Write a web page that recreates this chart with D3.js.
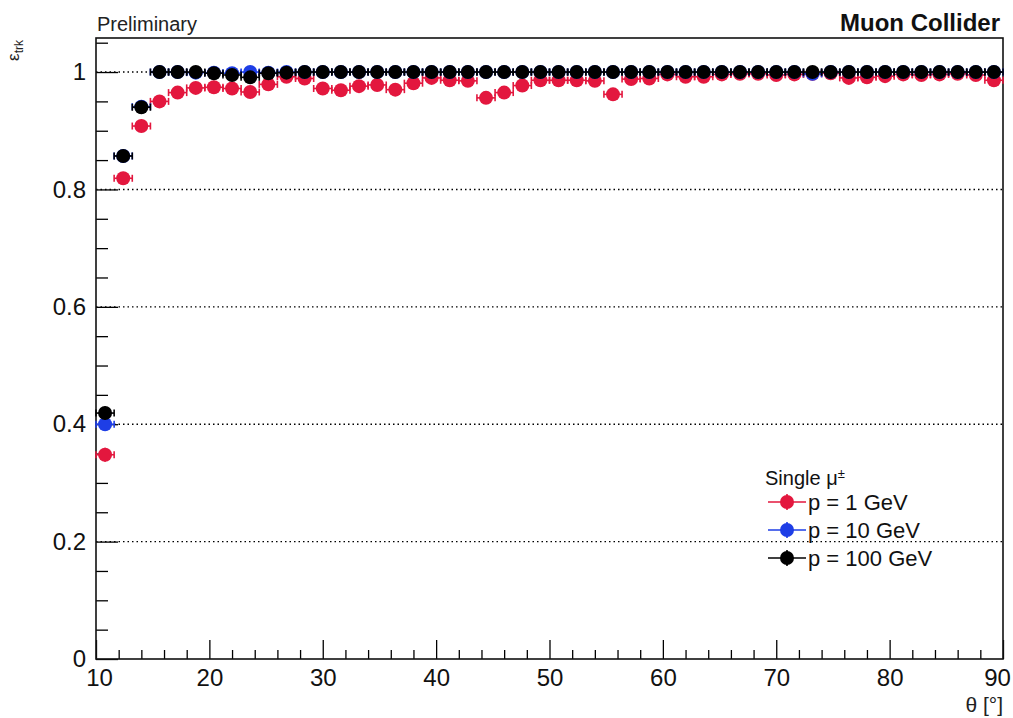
<!DOCTYPE html>
<html>
<head>
<meta charset="utf-8">
<script src="https://cdn.jsdelivr.net/npm/d3@7"></script>
<style>
  body { margin: 0; background: #fff; }
  text { font-family: "Liberation Sans", Arial, sans-serif; }
</style>
</head>
<body>
<script>
// bin centres in theta [deg], bin width 1.6
var thetaBins = [10.8, 12.4, 14.0, 15.6, 17.2, 18.8, 20.4, 22.0, 23.6, 25.2,
                 26.8, 28.4, 30.0, 31.6, 33.2, 34.8, 36.4, 38.0, 39.6, 41.2,
                 42.8, 44.4, 46.0, 47.6, 49.2, 50.8, 52.4, 54.0, 55.6, 57.2,
                 58.8, 60.4, 62.0, 63.6, 65.2, 66.8, 68.4, 70.0, 71.6, 73.2,
                 74.8, 76.4, 78.0, 79.6, 81.2, 82.8, 84.4, 86.0, 87.6, 89.2];
var binHalfWidth = 0.8;

var eff1GeV = [0.348, 0.819, 0.908, 0.950, 0.965, 0.973, 0.974, 0.972, 0.966, 0.979,
               0.992, 0.989, 0.972, 0.969, 0.976, 0.978, 0.970, 0.981, 0.990, 0.986,
               0.985, 0.956, 0.965, 0.977, 0.986, 0.986, 0.986, 0.985, 0.962, 0.988,
               0.989, 0.996, 0.992, 0.992, 0.996, 0.997, 0.997, 0.995, 0.996, 0.997,
               0.998, 0.990, 0.991, 0.993, 0.996, 0.995, 0.996, 0.997, 0.995, 0.986];
var err1GeV = [0.012, 0.008, 0.006, 0.005, 0.004, 0.004, 0.004, 0.004, 0.004, 0.003,
               0.002, 0.003, 0.004, 0.004, 0.003, 0.003, 0.004, 0.003, 0.002, 0.003,
               0.003, 0.005, 0.004, 0.003, 0.003, 0.003, 0.003, 0.003, 0.004, 0.003,
               0.002, 0.001, 0.002, 0.002, 0.001, 0.001, 0.001, 0.001, 0.001, 0.001,
               0.001, 0.002, 0.002, 0.002, 0.001, 0.001, 0.001, 0.001, 0.001, 0.003];

var eff10GeV = [0.400, 0.857, 0.941, 1.000, 1.000, 0.999, 0.999, 0.998, 1.000, 0.999,
                1.000, 1.000, 1.000, 1.000, 1.000, 1.000, 1.000, 1.000, 1.000, 1.000,
                1.000, 1.000, 1.000, 1.000, 1.000, 1.000, 1.000, 1.000, 1.000, 1.000,
                1.000, 1.000, 1.000, 1.000, 1.000, 1.000, 1.000, 1.000, 1.000, 0.997,
                1.000, 1.000, 1.000, 1.000, 1.000, 1.000, 1.000, 1.000, 1.000, 1.000];
var err10GeV = [0.011, 0.007, 0.005, 0.000, 0.000, 0.001, 0.001, 0.001, 0.000, 0.001,
                0.000, 0.000, 0.000, 0.000, 0.000, 0.000, 0.000, 0.000, 0.000, 0.000,
                0.000, 0.000, 0.000, 0.000, 0.000, 0.000, 0.000, 0.000, 0.000, 0.000,
                0.000, 0.000, 0.000, 0.000, 0.000, 0.000, 0.000, 0.000, 0.000, 0.001,
                0.000, 0.000, 0.000, 0.000, 0.000, 0.000, 0.000, 0.000, 0.000, 0.000];

var eff100GeV = [0.419, 0.857, 0.940, 1.000, 1.000, 1.000, 0.998, 0.995, 0.991, 0.998,
                 0.999, 1.000, 1.000, 1.000, 1.000, 1.000, 1.000, 1.000, 1.000, 1.000,
                 1.000, 1.000, 1.000, 1.000, 1.000, 1.000, 1.000, 1.000, 1.000, 1.000,
                 1.000, 1.000, 1.000, 1.000, 1.000, 1.000, 1.000, 1.000, 1.000, 1.000,
                 1.000, 1.000, 1.000, 1.000, 1.000, 1.000, 1.000, 1.000, 1.000, 1.000];
var err100GeV = [0.011, 0.007, 0.005, 0.000, 0.000, 0.000, 0.001, 0.001, 0.002, 0.001,
                 0.001, 0.000, 0.000, 0.000, 0.000, 0.000, 0.000, 0.000, 0.000, 0.000,
                 0.000, 0.000, 0.000, 0.000, 0.000, 0.000, 0.000, 0.000, 0.000, 0.000,
                 0.000, 0.000, 0.000, 0.000, 0.000, 0.000, 0.000, 0.000, 0.000, 0.000,
                 0.000, 0.000, 0.000, 0.000, 0.000, 0.000, 0.000, 0.000, 0.000, 0.000];

var seriesNames  = ["p = 1 GeV", "p = 10 GeV", "p = 100 GeV"];
var seriesColors = ["#e3173e", "#1e3ee6", "#000000"];

var xMajorTicks = [10, 20, 30, 40, 50, 60, 70, 80, 90];
var yMajorTicks = [0, 0.2, 0.4, 0.6, 0.8, 1];
var yTickLabels = ["0", "0.2", "0.4", "0.6", "0.8", "1"];

var series = [
  { name: seriesNames[0], color: seriesColors[0], y: eff1GeV,   err: err1GeV },
  { name: seriesNames[1], color: seriesColors[1], y: eff10GeV,  err: err10GeV },
  { name: seriesNames[2], color: seriesColors[2], y: eff100GeV, err: err100GeV }
];

var W = 1013, H = 718;
var margin = {top: 38, right: 10, bottom: 59, left: 96};
var width  = W - margin.left - margin.right,
    height = H - margin.top - margin.bottom;

var svg = d3.select("body")
            .append("svg")
            .attr("width", W)
            .attr("height", H);

var x = d3.scaleLinear().domain([10, 90]).range([0, width]),
    y = d3.scaleLinear().domain([0, 1.058]).range([height, 0]);

var g = svg.append("g")
           .attr("transform", "translate(" + margin.left + "," + margin.top + ")");

// dotted horizontal grid
g.selectAll(".grid")
 .data(yMajorTicks.filter(function(d) { return d > 0; }))
 .enter().append("line")
         .attr("class", "grid")
         .attr("x1", 0)
         .attr("x2", width)
         .attr("y1", function(d) { return y(d); })
         .attr("y2", function(d) { return y(d); })
         .attr("stroke", "#000")
         .attr("stroke-width", 1.4)
         .attr("stroke-dasharray", "1.5,3");

// axes with inward ticks
var xMinor = d3.range(10, 90.01, 2).filter(function(d) { return d % 10 !== 0; });
var yMinor = d3.range(0, 1.051, 0.05).filter(function(d) { return Math.abs(d / 0.2 - Math.round(d / 0.2)) > 1e-6; });

g.append("g")
 .attr("class", "axis axis--x")
 .attr("transform", "translate(0," + height + ")")
 .call(d3.axisBottom(x).tickValues(xMajorTicks).tickSize(-19).tickPadding(10).tickFormat(d3.format("d")))
 .call(function(a) { a.select(".domain").remove(); });

g.append("g")
 .attr("transform", "translate(0," + height + ")")
 .call(d3.axisBottom(x).tickValues(xMinor).tickSize(-9).tickFormat(""))
 .call(function(a) { a.select(".domain").remove(); });

g.append("g")
 .attr("class", "axis axis--y")
 .call(d3.axisLeft(y).tickValues(yMajorTicks).tickSize(-22).tickPadding(10)
         .tickFormat(function(d, i) { return yTickLabels[i]; }))
 .call(function(a) { a.select(".domain").remove(); });

g.append("g")
 .call(d3.axisLeft(y).tickValues(yMinor).tickSize(-12).tickFormat(""))
 .call(function(a) { a.select(".domain").remove(); });

g.selectAll(".tick line").attr("stroke", "#000").attr("stroke-width", 1.3);
g.selectAll(".tick text")
 .attr("fill", "#111")
 .style("font-size", "24px")
 .style("font-family", "'Liberation Sans', Arial, sans-serif");

// last x label sits a bit inside, as in the original
g.selectAll(".axis--x .tick text")
 .attr("dx", function(d) { return d === 90 ? -6 : (d === 10 ? 3 : 0); });

// frame
g.append("rect")
 .attr("width", width)
 .attr("height", height)
 .attr("fill", "none")
 .attr("stroke", "#111")
 .attr("stroke-width", 1.6);

// data: error bars + markers
var capH = 3.5, r = 7;
series.forEach(function(s) {
  var pts = thetaBins.map(function(t, i) { return {t: t, v: s.y[i], e: s.err[i]}; });
  var sg = g.append("g").attr("class", "series");
  var pg = sg.selectAll(".pt").data(pts).enter().append("g").attr("class", "pt");

  pg.append("line")
    .attr("x1", function(d) { return x(d.t - binHalfWidth); })
    .attr("x2", function(d) { return x(d.t + binHalfWidth); })
    .attr("y1", function(d) { return y(d.v); })
    .attr("y2", function(d) { return y(d.v); });
  pg.append("line")
    .attr("x1", function(d) { return x(d.t - binHalfWidth); })
    .attr("x2", function(d) { return x(d.t - binHalfWidth); })
    .attr("y1", function(d) { return y(d.v) - capH; })
    .attr("y2", function(d) { return y(d.v) + capH; });
  pg.append("line")
    .attr("x1", function(d) { return x(d.t + binHalfWidth); })
    .attr("x2", function(d) { return x(d.t + binHalfWidth); })
    .attr("y1", function(d) { return y(d.v) - capH; })
    .attr("y2", function(d) { return y(d.v) + capH; });
  pg.append("line")
    .attr("x1", function(d) { return x(d.t); })
    .attr("x2", function(d) { return x(d.t); })
    .attr("y1", function(d) { return y(d.v - d.e); })
    .attr("y2", function(d) { return y(d.v + d.e); });
  pg.selectAll("line").attr("stroke", s.color).attr("stroke-width", 1.6);

  pg.append("circle")
    .attr("cx", function(d) { return x(d.t); })
    .attr("cy", function(d) { return y(d.v); })
    .attr("r", r)
    .attr("fill", s.color);
});

// header texts
svg.append("text")
   .attr("x", 97)
   .attr("y", 31)
   .style("font-size", "20px")
   .attr("fill", "#222")
   .text("Preliminary");

svg.append("text")
   .attr("x", 1000)
   .attr("y", 31)
   .attr("text-anchor", "end")
   .style("font-size", "24px")
   .style("font-weight", "bold")
   .attr("fill", "#111")
   .text("Muon Collider");

// axis titles
var yt = svg.append("text")
   .attr("transform", "translate(19,40) rotate(-90)")
   .attr("text-anchor", "end")
   .style("font-size", "17px")
   .attr("fill", "#222");
yt.append("tspan").text("ε");
yt.append("tspan").attr("dy", 4).style("font-size", "12px").text("trk");

svg.append("text")
   .attr("x", 1003)
   .attr("y", 712)
   .attr("text-anchor", "end")
   .style("font-size", "21px")
   .attr("fill", "#222")
   .text("θ [°]");

// legend
var lg = svg.append("g").attr("transform", "translate(765,0)");
var lt = lg.append("text")
   .attr("x", 0)
   .attr("y", 485)
   .style("font-size", "20px")
   .attr("fill", "#111");
lt.append("tspan").text("Single μ");
lt.append("tspan").attr("dy", -7).style("font-size", "13px").text("±");

var rows = lg.selectAll(".row")
   .data(series)
   .enter().append("g")
           .attr("class", "row")
           .attr("transform", function(d, i) { return "translate(0," + (502 + i * 28) + ")"; });
rows.append("line")
    .attr("x1", 3).attr("x2", 41).attr("y1", 0).attr("y2", 0)
    .attr("stroke", function(d) { return d.color; }).attr("stroke-width", 1.6);
rows.append("line")
    .attr("x1", 22).attr("x2", 22).attr("y1", -8).attr("y2", 8)
    .attr("stroke", function(d) { return d.color; }).attr("stroke-width", 1.6);
rows.append("circle")
    .attr("cx", 22).attr("cy", 0).attr("r", r)
    .attr("fill", function(d) { return d.color; });
rows.append("text")
    .attr("x", 43)
    .attr("y", 0)
    .attr("dy", "0.36em")
    .style("font-size", "22px")
    .attr("fill", "#111")
    .text(function(d) { return d.name; });
</script>
</body>
</html>
